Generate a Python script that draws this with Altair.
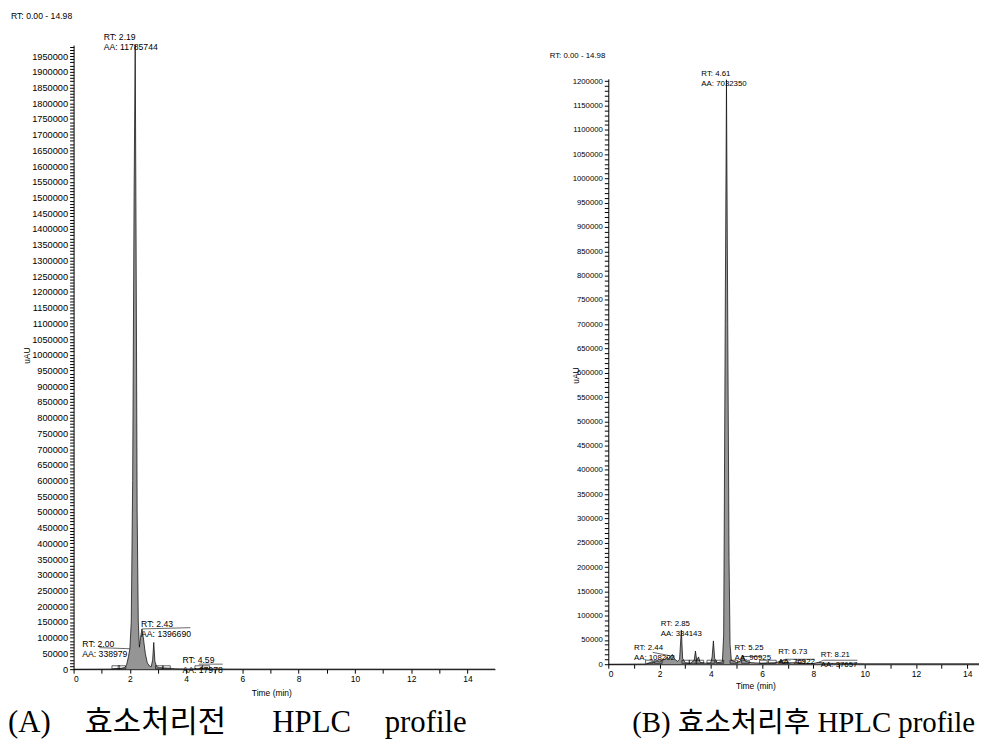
import altair as alt
import pandas as pd

# ---------------- Panel A (before enzyme treatment) ----------------
a_time = [0.0, 1.4, 1.5, 1.6, 1.7, 1.8, 1.88, 1.95, 2.0, 2.05, 2.1, 2.15, 2.19, 2.22, 2.26, 2.3,
          2.34, 2.38, 2.43, 2.48, 2.55, 2.62, 2.7, 2.76, 2.81, 2.85, 2.89, 2.95, 3.05, 3.2, 3.4,
          3.6, 4.0, 4.4, 4.59, 4.8, 5.5, 8.0, 14.98]
a_uau = [0, 500, 2000, 1500, 3000, 5000, 12000, 40000, 65000, 150000, 600000, 1500000, 1985000,
         1400000, 500000, 150000, 70000, 100000, 128000, 100000, 50000, 20000, 10000, 8000, 30000,
         85000, 25000, 8000, 5000, 4000, 3000, 1500, 800, 1000, 3000, 1000, 500, 300, 200]
a_marker_time = [1.5, 1.72, 3.05, 3.3, 4.45, 4.7]
a_marker_uau = [6000, 6000, 6000, 6000, 6000, 6000]
a_label_rt = ["RT: 2.19", "RT: 2.43", "RT: 2.00", "RT: 4.59"]
a_label_aa = ["AA: 11785744", "AA: 1396690", "AA: 338979", "AA: 17978"]
a_label_time = [1.07, 2.40, 0.31, 3.87]
a_label_uau = [2001600, 134900, 71700, 20000]
a_lead_t1 = [0.92, 2.43, 4.45]
a_lead_y1 = [68500, 128000, 16000]
a_lead_t2 = [2.0, 4.15, 5.3]
a_lead_y2 = [65000, 132000, 16000]

# ---------------- Panel B (after enzyme treatment) ----------------
b_time = [0.0, 1.5, 1.6, 1.7, 1.8, 1.9, 2.0, 2.1, 2.2, 2.3, 2.35, 2.44, 2.5, 2.55, 2.6, 2.7, 2.78,
          2.85, 2.9, 3.0, 3.2, 3.35, 3.4, 3.45, 3.52, 3.58, 3.8, 4.0, 4.05, 4.1, 4.15, 4.25, 4.45,
          4.5, 4.52, 4.56, 4.61, 4.66, 4.71, 4.75, 4.8, 5.0, 5.15, 5.25, 5.35, 5.6, 6.0, 6.5, 6.73,
          6.9, 7.5, 7.6, 8.0, 8.21, 8.4, 10.0, 14.46]
b_uau = [0, 500, 3000, 5000, 4000, 7000, 5000, 8000, 10000, 14000, 12000, 16000, 20000, 15000,
         10000, 6000, 10000, 70000, 12000, 3000, 2000, 8000, 27000, 8000, 15000, 4000, 2000, 3000,
         15000, 48000, 12000, 3000, 5000, 60000, 250000, 700000, 1203000, 700000, 220000, 40000,
         8000, 4000, 6000, 18000, 6000, 3000, 2000, 3000, 6000, 3000, 3000, 1500, 1500, 4000, 2000,
         1000, 1000]
b_marker_time = [1.6, 1.95, 3.02, 3.3, 3.57, 4.0, 4.35, 4.9, 5.35, 6.05, 6.4, 6.86, 7.5]
b_marker_uau = [5000] * 13
b_label_rt = ["RT: 4.61", "RT: 2.85", "RT: 2.44", "RT: 5.25", "RT: 6.73", "RT: 8.21"]
b_label_aa = ["AA: 7032350", "AA: 334143", "AA: 108202", "AA: 96925", "AA: 76922", "AA: 37657"]
b_label_time = [3.63, 2.05, 1.0, 4.92, 6.63, 8.29]
b_label_uau = [1211000, 78400, 28600, 28600, 21900, 15000]
b_lead_t1 = [1.73, 5.22, 6.73, 6.9, 8.21, 8.4]
b_lead_y1 = [24500, 16000, 6000, 10200, 4000, 8200]
b_lead_t2 = [2.44, 5.99, 6.9, 8.06, 8.4, 9.72]
b_lead_y2 = [17000, 16000, 10200, 10200, 8200, 8200]

header_text = ["RT: 0.00 - 14.98"]
caption_a_words = ["(A)", "효소처리전", "HPLC", "profile"]
caption_a_x = [-66, 11, 200, 313]          # word anchors, px from panel A's left edge
caption_b_words = ["(B) 효소처리후 HPLC profile"]
caption_b_x = [562]

FONT = "Liberation Sans"
CAPFONT = "Liberation Serif, Noto Sans CJK KR"
RECT = "M-1,-0.4L1,-0.4L1,0.4L-1,0.4Z"
W, H = 911, 628  # shared view; panel A occupies x 0-424, panel B x 538-911


def panel(times, vals, mt, mv, lrt, laa, lt, lv, t1, y1, t2, y2, *, xmax, ymax, xrange, yrange,
          xstep, xoffset, yoffset, ylabel_size, ann_size, ytitle_x, ytitle_y, xtitle_x,
          xtitle_y, head_x, head_y, cap_words, cap_xs, cap_y, cap_size):
    prof = pd.DataFrame({"t": times, "v": vals})
    yvals = list(range(0, int(ymax) // 10000 * 10000 + 1, 10000))
    nx = int(xmax / xstep + 1e-9) + 1
    xvals = [round(i * xstep, 2) for i in range(nx)]
    xaxis = alt.Axis(values=xvals, tickCount=len(xvals) + 5, format="d", orient="bottom",
                     offset=xoffset,
                     labelExpr="datum.value % 2 === 0 ? datum.label : ''",
                     labelOverlap=False, tickSize=4, labelPadding=1, labelFontSize=8.5,
                     grid=False, title="Time (min)", titleFontSize=8.5,
                     titleFontWeight="normal", titleX=xtitle_x, titleY=xtitle_y,
                     titleBaseline="top", domainColor="black", tickColor="black",
                     labelColor="black", titleColor="black", labelFont=FONT, titleFont=FONT)
    yaxis = alt.Axis(values=yvals, tickCount=len(yvals) + 5, format="d", orient="left",
                     offset=yoffset,
                     labelExpr="datum.value % 50000 === 0 ? datum.label : ''",
                     labelOverlap=False, tickSize=4, labelPadding=2,
                     labelFontSize=ylabel_size, grid=False, title="uAU", titleFontSize=8.5,
                     titleFontWeight="normal", titleX=ytitle_x, titleY=ytitle_y,
                     titleBaseline="bottom", domainColor="black", tickColor="black",
                     labelColor="black", titleColor="black", labelFont=FONT, titleFont=FONT)
    xs = alt.Scale(domain=[0, xmax], range=xrange, nice=False, zero=False)
    ys = alt.Scale(domain=[0, ymax], range=yrange, nice=False)

    def X(f):
        return alt.X(f, scale=xs, axis=xaxis)

    def Y(f):
        return alt.Y(f, scale=ys, axis=yaxis, stack=None)

    base = alt.Chart(prof)
    area = base.mark_area(color="#8a8a8a", opacity=0.9, interpolate="linear").encode(
        x=X("t:Q"), y=Y("v:Q"))
    line = base.mark_line(color="black", strokeWidth=0.7).encode(x=X("t:Q"), y=Y("v:Q"))

    mk = alt.Chart(pd.DataFrame({"t": mt, "v": mv})).mark_point(
        shape=RECT, size=60, filled=False, color="black", strokeWidth=0.6, opacity=1
    ).encode(x=X("t:Q"), y=Y("v:Q"))

    ann_df = pd.DataFrame({"t": lt, "v": lv, "txt": [a + "\n" + b for a, b in zip(lrt, laa)]})
    ann = alt.Chart(ann_df).mark_text(
        align="left", baseline="alphabetic", lineBreak="\n", lineHeight=10,
        fontSize=ann_size, font=FONT, color="black"
    ).encode(x=X("t:Q"), y=Y("v:Q"), text="txt:N")

    lead = alt.Chart(pd.DataFrame({"t1": t1, "y1": y1, "t2": t2, "y2": y2})).mark_rule(
        color="black", strokeWidth=0.6
    ).encode(x=X("t1:Q"), y=Y("y1:Q"), x2="t2:Q", y2="y2:Q")

    head = alt.Chart(pd.DataFrame({"s": header_text})).mark_text(
        align="left", baseline="alphabetic", fontSize=ann_size, font=FONT, color="black"
    ).encode(x=alt.value(head_x), y=alt.value(head_y), text="s:N")

    layers = [area, line, mk, lead, ann, head]
    for word, cx in zip(cap_words, cap_xs):
        layers.append(
            alt.Chart(pd.DataFrame({"s": [word]})).mark_text(
                align="left", baseline="alphabetic", fontSize=cap_size, font=CAPFONT,
                color="black"
            ).encode(x=alt.value(cx), y=alt.value(cap_y), text="s:N")
        )
    return alt.layer(*layers)


left = panel(a_time, a_uau, a_marker_time, a_marker_uau, a_label_rt, a_label_aa, a_label_time,
             a_label_uau, a_lead_t1, a_lead_y1, a_lead_t2, a_lead_y2,
             xmax=14.98, ymax=1985000, xrange=[0, 424], yrange=[628, 0], xstep=0.5,
             xoffset=0, yoffset=0,
             ylabel_size=9.3, ann_size=8.7, ytitle_x=-42, ytitle_y=312,
             xtitle_x=199, xtitle_y=19, head_x=-63, head_y=-26,
             cap_words=caption_a_words, cap_xs=caption_a_x, cap_y=691, cap_size=31)

right = panel(b_time, b_uau, b_marker_time, b_marker_uau, b_label_rt, b_label_aa, b_label_time,
              b_label_uau, b_lead_t1, b_lead_y1, b_lead_t2, b_lead_y2,
              xmax=14.46, ymax=1205000, xrange=[538, 911], yrange=[623, 34], xstep=0.25,
              xoffset=-5, yoffset=-538,
              ylabel_size=7.8, ann_size=7.9, ytitle_x=-28, ytitle_y=332,
              xtitle_x=686, xtitle_y=17, head_x=479, head_y=13,
              cap_words=caption_b_words, cap_xs=caption_b_x, cap_y=691, cap_size=29)

chart = alt.layer(left, right).resolve_scale(
    x="independent", y="independent"
).resolve_axis(
    x="independent", y="independent"
).properties(
    width=W, height=H,
    autosize=alt.AutoSizeParams(type="none"),
    padding={"left": 66, "top": 35, "right": 0, "bottom": 72},
).configure(font=FONT).configure_view(strokeWidth=0)

chart.save("out.html", embed_options={"renderer": "svg", "actions": False})
